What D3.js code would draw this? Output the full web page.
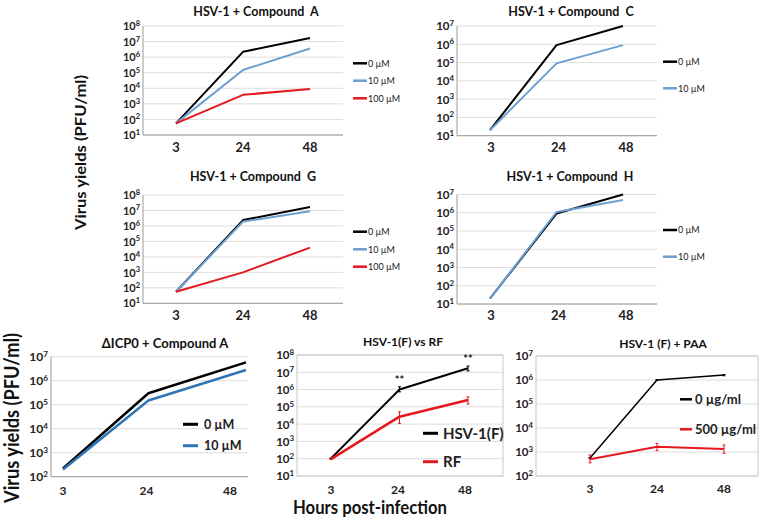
<!DOCTYPE html>
<html><head><meta charset="utf-8">
<script src="https://cdn.jsdelivr.net/npm/d3@7"></script>
<style>
body{margin:0;background:#fff;}
text{font-family:Lato,"Liberation Sans",Arial,sans-serif;}
</style></head>
<body><svg id="c" width="760" height="517"></svg>
<script>
// ---- data ----
const hours = ["3", "24", "48"];
const hoursNum = [3, 24, 48];
const decades8 = [1e1, 1e2, 1e3, 1e4, 1e5, 1e6, 1e7, 1e8];
const decades7 = [1e1, 1e2, 1e3, 1e4, 1e5, 1e6, 1e7];
const decades2to7 = [1e2, 1e3, 1e4, 1e5, 1e6, 1e7];

const compA_0 = [56, 2.2e6, 1.7e7];
const compA_10 = [56, 1.5e5, 3.6e6];
const compA_100 = [56, 3.8e3, 9e3];

const compC_0 = [20, 9e5, 1e7];
const compC_10 = [20, 9e4, 9e5];

const compG_0 = [56, 2.4e6, 1.7e7];
const compG_10 = [56, 1.9e6, 9e6];
const compG_100 = [56, 1e3, 4e4];

const compH_0 = [20, 9e5, 1e7];
const compH_10 = [20, 1.1e6, 5e6];

const icp0_0 = [220, 3e5, 5.8e6];
const icp0_10 = [200, 1.5e5, 2.8e6];

const hsvF = [105, 1e6, 1.7e7];
const hsvF_lo = [100, 7.4e5, 1.2e7];
const hsvF_hi = [110, 1.45e6, 2.3e7];
const rf = [95, 2.7e4, 2.5e5];
const rf_lo = [90, 1.1e4, 1.45e5];
const rf_hi = [100, 5.2e4, 3.8e5];
const sigMarks = ["", "**", "**"];

const paa_0 = [560, 1e6, 1.6e6];
const paa_0_lo = [540, 0.97e6, 1.5e6];
const paa_0_hi = [580, 1.03e6, 1.7e6];
const paa_500 = [500, 1650, 1330];
const paa_500_lo = [355, 1130, 890];
const paa_500_hi = [750, 2300, 1950];

const BLACK = "#000", BLUE = "#6d9fd0", BLUE2 = "#2e75b6", RED = "#e3191e";

const svg = d3.select("#c");

function yLabel(g, y, v, x, fs) {
  const e = Math.round(Math.log10(v));
  const t = g.append("text").attr("x", x).attr("y", y + fs * 0.38)
    .attr("text-anchor", "end").attr("font-size", fs).attr("font-weight", 700).attr("fill", "#222");
  t.append("tspan").text("10");
  t.append("tspan").attr("font-size", fs * 0.68).attr("dy", -fs * 0.38).text(e);
}

function panel(cfg) {
  const g = svg.append("g");
  const y = d3.scaleLog().domain(cfg.ydom).range(cfg.yr);
  const xl = d3.scalePoint().domain(hours).range(cfg.xlab);
  const xp = cfg.linear
    ? (i => d3.scaleLinear().domain([3, 48]).range(cfg.xpts)(hoursNum[i]))
    : (i => d3.scalePoint().domain(hours).range(cfg.xpts)(hours[i]));
  g.selectAll(".grid").data(cfg.ticks).join("line")
    .attr("x1", cfg.box[0]).attr("x2", cfg.box[1])
    .attr("y1", d => y(d)).attr("y2", d => y(d))
    .attr("stroke", "#dedede").attr("stroke-width", 1);
  if (cfg.frame) {
    g.append("rect").attr("x", cfg.box[0]).attr("y", cfg.yr[1])
      .attr("width", cfg.box[1] - cfg.box[0]).attr("height", cfg.yr[0] - cfg.yr[1])
      .attr("fill", "none").attr("stroke", "#c8c8c8");
  } else {
    g.append("line").attr("x1", cfg.box[0]).attr("x2", cfg.box[0]).attr("y1", cfg.yr[1]).attr("y2", cfg.yr[0]).attr("stroke", "#9a9a9a");
    g.append("line").attr("x1", cfg.box[0]).attr("x2", cfg.box[1]).attr("y1", cfg.yr[0]).attr("y2", cfg.yr[0]).attr("stroke", "#9a9a9a");
  }
  cfg.ticks.forEach(v => yLabel(g, y(v), v, cfg.box[0] - 3, cfg.yfs));
  g.selectAll(".xl").data(hours).join("text")
    .attr("x", d => xl(d)).attr("y", cfg.xly).attr("text-anchor", "middle")
    .attr("font-size", cfg.xfs).attr("font-weight", 700).attr("fill", "#222").text(d => d);
  g.append("text").attr("x", cfg.title[0]).attr("y", cfg.title[1]).attr("text-anchor", "middle")
    .attr("font-size", cfg.tfs).attr("font-weight", 700).attr("fill", "#111")
    .attr("xml:space", "preserve").text(cfg.titleText);
  const line = d3.line().x((d, i) => xp(i)).y(d => y(d));
  cfg.series.forEach(s => {
    g.append("path").datum(s.values).attr("d", line).attr("fill", "none")
      .attr("stroke", s.color).attr("stroke-width", s.w || 2).attr("stroke-linejoin", "round");
    if (s.lo) {
      s.values.forEach((v, i) => {
        const x = xp(i);
        g.append("line").attr("x1", x).attr("x2", x).attr("y1", y(s.lo[i])).attr("y2", y(s.hi[i])).attr("stroke", s.color).attr("stroke-width", 1);
        g.append("line").attr("x1", x - 1.5).attr("x2", x + 1.5).attr("y1", y(s.lo[i])).attr("y2", y(s.lo[i])).attr("stroke", s.color).attr("stroke-width", 1);
        g.append("line").attr("x1", x - 1.5).attr("x2", x + 1.5).attr("y1", y(s.hi[i])).attr("y2", y(s.hi[i])).attr("stroke", s.color).attr("stroke-width", 1);
      });
    }
    if (s.marks) {
      s.values.forEach((v, i) => {
        if (!s.marks[i]) return;
        g.append("text").attr("x", xp(i)).attr("y", y(s.hi[i]) - 3).attr("text-anchor", "middle")
          .attr("font-size", 11).attr("font-weight", 700).attr("fill", "#222").text(s.marks[i]);
      });
    }
  });
  cfg.series.forEach((s, i) => {
    const ly = cfg.leg.y[i];
    g.append("line").attr("x1", cfg.leg.x).attr("x2", cfg.leg.x + cfg.leg.len).attr("y1", ly).attr("y2", ly)
      .attr("stroke", s.color).attr("stroke-width", cfg.leg.w);
    g.append("text").attr("x", cfg.leg.x + cfg.leg.len + cfg.leg.gap).attr("y", ly + cfg.leg.fs * 0.36)
      .attr("font-size", cfg.leg.fs).attr("font-weight", cfg.leg.fw).attr("fill", "#222").text(s.name);
  });
}

const topLeg = (x, ys) => ({ x: x, y: ys, len: 14, gap: 1, fs: 9, fw: 400, w: 2.5 });

panel({ titleText: "HSV-1 + Compound  A", title: [256, 16], tfs: 12.5,
  ydom: [1e1, 1e8], yr: [135, 26], ticks: decades8, box: [143, 343], xpts: [176, 310], xlab: [176, 310],
  xly: 152, xfs: 13, yfs: 11,
  series: [{ name: "0 µM", values: compA_0, color: BLACK }, { name: "10 µM", values: compA_10, color: BLUE }, { name: "100 µM", values: compA_100, color: RED }],
  leg: topLeg(353, [63.3, 80.7, 98.3]) });

panel({ titleText: "HSV-1 + Compound  C", title: [571, 16], tfs: 12.5,
  ydom: [1e1, 1e7], yr: [135.7, 26], ticks: decades7, box: [457, 657], xpts: [490, 623], xlab: [491, 626],
  xly: 152, xfs: 13, yfs: 11.5,
  series: [{ name: "0 µM", values: compC_0, color: BLACK }, { name: "10 µM", values: compC_10, color: BLUE }],
  leg: topLeg(663, [61.7, 88.3]) });

panel({ titleText: "HSV-1 + Compound  G", title: [253, 181], tfs: 12.5,
  ydom: [1e1, 1e8], yr: [303.3, 195], ticks: decades8, box: [143, 343], xpts: [176, 310], xlab: [176, 310],
  xly: 320, xfs: 13, yfs: 11,
  series: [{ name: "0 µM", values: compG_0, color: BLACK }, { name: "10 µM", values: compG_10, color: BLUE }, { name: "100 µM", values: compG_100, color: RED }],
  leg: topLeg(353, [231.7, 249.3, 266.7]) });

panel({ titleText: "HSV-1 + Compound  H", title: [570, 181], tfs: 12.5,
  ydom: [1e1, 1e7], yr: [304, 194.5], ticks: decades7, box: [457, 657], xpts: [490, 623], xlab: [491, 626],
  xly: 320, xfs: 13, yfs: 11.5,
  series: [{ name: "0 µM", values: compH_0, color: BLACK }, { name: "10 µM", values: compH_10, color: BLUE }],
  leg: topLeg(663, [230, 256.7]) });

panel({ titleText: "ΔICP0 + Compound A", title: [165, 348], tfs: 13, linear: true,
  ydom: [1e2, 1e7], yr: [476.7, 356.7], ticks: decades2to7, box: [51, 248], xpts: [63, 246], xlab: [63, 230],
  xly: 495, xfs: 12, yfs: 12,
  series: [{ name: "0 µM", values: icp0_0, color: BLACK, w: 2.5 }, { name: "10 µM", values: icp0_10, color: BLUE2, w: 2.5 }],
  leg: { x: 183, y: [424.3, 445.7], len: 15, gap: 6, fs: 12.5, fw: 700, w: 3 } });

panel({ titleText: "HSV-1(F) vs RF", title: [403, 346], tfs: 12, frame: true,
  ydom: [1e1, 1e8], yr: [476, 355], ticks: decades8, box: [297, 503], xpts: [331, 468], xlab: [331, 465],
  xly: 494, xfs: 12, yfs: 11.5,
  series: [{ name: "HSV-1(F)", values: hsvF, lo: hsvF_lo, hi: hsvF_hi, marks: sigMarks, color: BLACK, w: 2 },
           { name: "RF", values: rf, lo: rf_lo, hi: rf_hi, color: RED, w: 2.5 }],
  leg: { x: 423, y: [433.3, 461.7], len: 15, gap: 5, fs: 15, fw: 700, w: 3 } });

panel({ titleText: "HSV-1 (F) + PAA", title: [663, 348], tfs: 12, frame: true,
  ydom: [1e2, 1e7], yr: [476, 356], ticks: decades2to7, box: [536, 758], xpts: [590, 724], xlab: [590, 724],
  xly: 493, xfs: 12, yfs: 11.5,
  series: [{ name: "0 µg/ml", values: paa_0, lo: paa_0_lo, hi: paa_0_hi, color: BLACK, w: 1.5 },
           { name: "500 µg/ml", values: paa_500, lo: paa_500_lo, hi: paa_500_hi, color: RED, w: 2 }],
  leg: { x: 680, y: [399.3, 429.3], len: 12, gap: 3, fs: 13, fw: 700, w: 2.5 } });

svg.append("text").attr("transform", "translate(86,152.5) rotate(-90)").attr("text-anchor", "middle")
  .attr("font-size", 16).attr("font-weight", 700).attr("fill", "#111")
  .attr("textLength", 155).attr("lengthAdjust", "spacingAndGlyphs").text("Virus yields (PFU/ml)");
svg.append("text").attr("transform", "translate(19,418) rotate(-90)").attr("text-anchor", "middle")
  .attr("font-size", 20).attr("font-weight", 700).attr("fill", "#111")
  .attr("textLength", 170).attr("lengthAdjust", "spacingAndGlyphs").text("Virus yields (PFU/ml)");
svg.append("text").attr("x", 370).attr("y", 514).attr("text-anchor", "middle")
  .attr("font-size", 18).attr("font-weight", 700).attr("fill", "#111")
  .attr("textLength", 154).attr("lengthAdjust", "spacingAndGlyphs").text("Hours post-infection");
</script></body></html>
